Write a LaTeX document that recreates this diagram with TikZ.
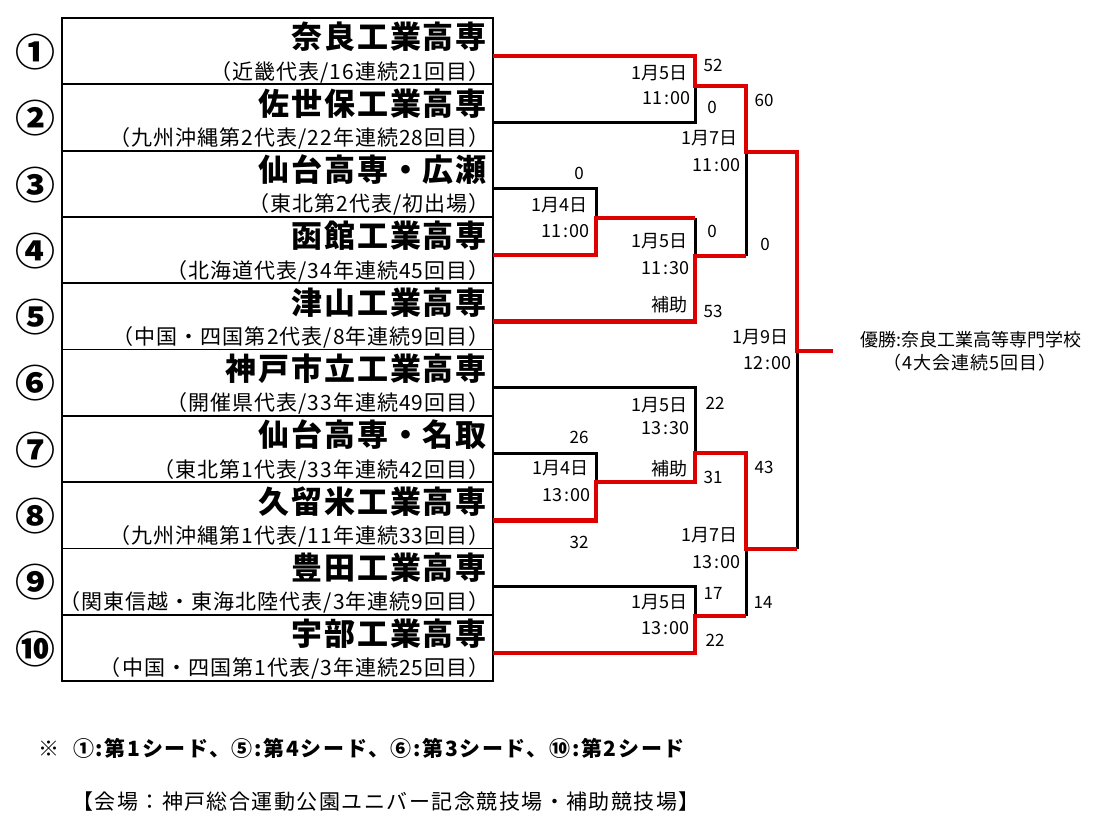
\documentclass[tikz,border=0pt]{standalone}
\usepackage{fontspec}
\setmainfont{Noto Sans CJK JP}
\newfontfamily\namefont{Noto Sans CJK JP}[LetterSpace=6]
\newfontfamily\subfont{Noto Sans CJK JP}[LetterSpace=5]
\newfontfamily\notefont{Noto Sans CJK JP}[LetterSpace=8]
\newfontfamily\placefont{Noto Sans CJK JP}[LetterSpace=7]
\definecolor{winred}{RGB}{220,0,0}
\newcommand\hm[2]{#1\kern1.5pt:\kern1.5pt#2}

\begin{document}
\begin{tikzpicture}[x=1pt,y=-1pt,
    row/.style={draw,line width=1.8pt,minimum width=431pt,minimum height=66.3pt,inner sep=0pt,outer sep=0pt},
    school/.style={anchor=east,inner sep=0pt,font={\namefont\bfseries\fontsize{31pt}{31pt}\selectfont}},
    detail/.style={anchor=east,inner sep=0pt,font={\subfont\fontsize{21pt}{21pt}\selectfont}},
    seed/.style={inner sep=0pt,xscale=1.05,font={\bfseries\fontsize{38pt}{38pt}\selectfont}},
    score/.style={inner sep=0pt,font={\fontsize{17pt}{17pt}\selectfont}},
    date/.style={anchor=east,inner sep=0pt,font={\fontsize{18pt}{18pt}\selectfont}},
    lose/.style={line width=3pt},
    win/.style={line width=4.5pt,winred},
    note/.style={anchor=west,inner sep=0pt}]
    \useasboundingbox (0,0) rectangle (1116,838);

    % Team rows
    \node[row] (r1) at (277.5,51.15) {};
    \node[row] (r2) at (277.5,117.45) {};
    \node[row] (r3) at (277.5,183.75) {};
    \node[row] (r4) at (277.5,250.05) {};
    \node[row] (r5) at (277.5,316.35) {};
    \node[row] (r6) at (277.5,382.65) {};
    \node[row] (r7) at (277.5,448.95) {};
    \node[row] (r8) at (277.5,515.25) {};
    \node[row] (r9) at (277.5,581.55) {};
    \node[row] (r10) at (277.5,647.85) {};

    % Seeds
    \node[seed] (c1) at (35,52) {①};
    \node[seed] (c2) at (35,118.3) {②};
    \node[seed] (c3) at (35,184.6) {③};
    \node[seed] (c4) at (35,250.9) {④};
    \node[seed] (c5) at (35,317.2) {⑤};
    \node[seed] (c6) at (35,383.5) {⑥};
    \node[seed] (c7) at (35,449.8) {⑦};
    \node[seed] (c8) at (35,516.1) {⑧};
    \node[seed] (c9) at (35,582.4) {⑨};
    \node[seed] (c10) at (35,648.7) {⑩};

    % Schools
    \node[school] (n1) at ([xshift=-6pt,yshift=14pt]r1.east) {奈良工業高専};
    \node[detail] (s1) at ([xshift=-3pt,yshift=-21pt]r1.east) {（近畿代表/16連続21回目）};
    \node[school] (n2) at ([xshift=-6pt,yshift=14pt]r2.east) {佐世保工業高専};
    \node[detail] (s2) at ([xshift=-3pt,yshift=-21pt]r2.east) {（九州沖縄第2代表/22年連続28回目）};
    \node[school] (n3) at ([xshift=-6pt,yshift=14pt]r3.east) {仙台高専・広瀬};
    \node[detail] (s3) at ([xshift=-3pt,yshift=-21pt]r3.east) {（東北第2代表/初出場）};
    \node[school] (n4) at ([xshift=-6pt,yshift=14pt]r4.east) {函館工業高専};
    \node[detail] (s4) at ([xshift=-3pt,yshift=-21pt]r4.east) {（北海道代表/34年連続45回目）};
    \node[school] (n5) at ([xshift=-6pt,yshift=14pt]r5.east) {津山工業高専};
    \node[detail] (s5) at ([xshift=-3pt,yshift=-21pt]r5.east) {（中国・四国第2代表/8年連続9回目）};
    \node[school] (n6) at ([xshift=-6pt,yshift=14pt]r6.east) {神戸市立工業高専};
    \node[detail] (s6) at ([xshift=-3pt,yshift=-21pt]r6.east) {（開催県代表/33年連続49回目）};
    \node[school] (n7) at ([xshift=-6pt,yshift=14pt]r7.east) {仙台高専・名取};
    \node[detail] (s7) at ([xshift=-3pt,yshift=-21pt]r7.east) {（東北第1代表/33年連続42回目）};
    \node[school] (n8) at ([xshift=-6pt,yshift=14pt]r8.east) {久留米工業高専};
    \node[detail] (s8) at ([xshift=-3pt,yshift=-21pt]r8.east) {（九州沖縄第1代表/11年連続33回目）};
    \node[school] (n9) at ([xshift=-6pt,yshift=14pt]r9.east) {豊田工業高専};
    \node[detail] (s9) at ([xshift=-3pt,yshift=-21pt]r9.east) {（関東信越・東海北陸代表/3年連続9回目）};
    \node[school] (n10) at ([xshift=-6pt,yshift=14pt]r10.east) {宇部工業高専};
    \node[detail] (s10) at ([xshift=-3pt,yshift=-21pt]r10.east) {（中国・四国第1代表/3年連続25回目）};

    % Bracket points
    \coordinate (t1) at ([yshift=-5pt]r1.east);
    \coordinate (t2) at ([yshift=-5pt]r2.east);
    \coordinate (t3) at ([yshift=-5pt]r3.east);
    \coordinate (t4) at ([yshift=-5pt]r4.east);
    \coordinate (t5) at ([yshift=-5pt]r5.east);
    \coordinate (t6) at ([yshift=-5pt]r6.east);
    \coordinate (t7) at ([yshift=-5pt]r7.east);
    \coordinate (t8) at ([yshift=-5pt]r8.east);
    \coordinate (t9) at ([yshift=-5pt]r9.east);
    \coordinate (t10) at ([yshift=-5pt]r10.east);
    \coordinate (a) at (695,86);
    \coordinate (b) at (596,218);
    \coordinate (c) at (695,256);
    \coordinate (d) at (746,152);
    \coordinate (e) at (596,482);
    \coordinate (f) at (695,453);
    \coordinate (g) at (695,616);
    \coordinate (h) at (746,549);
    \coordinate (fin) at (797,351);
    \coordinate (champ) at (833,351);

    % Losers
    \draw[lose] (t2) -| (a);
    \draw[lose] (t3) -| (b);
    \draw[lose] (b -| c) -- (c);
    \draw[lose] (c -| d) -- (d);
    \draw[lose] (t6) -| (f);
    \draw[lose] (t7) -| (e);
    \draw[lose] (t9) -| (g);
    \draw[lose] (g -| h) -- (h);
    \draw[lose] (h -| fin) -- (fin);
    % Winners
    \draw[win] (t1) -| (a) -| (d) -| (fin) -- (champ);
    \draw[win] (t4) -| (b) -- (b -| c);
    \draw[win] (t5) -| (c) -- (c -| d);
    \draw[win] (t8) -| (e) -| (f) -| (h) -- (h -| fin);
    \draw[win] (t10) -| (g) -- (g -| h);

    % Scores
    \node[score] (sa1) at (713,65) {52};
    \node[score] (sa2) at (712,107) {0};
    \node[score] (sb1) at (579,173) {0};
    \node[score] (sc1) at (712,231) {0};
    \node[score] (sc2) at (713,311) {53};
    \node[score] (sd1) at (764,100) {60};
    \node[score] (sd2) at (765,244) {0};
    \node[score] (se1) at (579,437) {26};
    \node[score] (se2) at (579,542) {32};
    \node[score] (sf1) at (715,403) {22};
    \node[score] (sf2) at (713,477) {31};
    \node[score] (sg1) at (713,593) {17};
    \node[score] (sg2) at (715,640) {22};
    \node[score] (sh1) at (764,467) {43};
    \node[score] (sh2) at (763,602) {14};

    % Dates
    \node[date] (da) at (688,73) {1月5日};
    \node[date] (ta) at (691,98) {\hm{11}{00}};
    \node[date] (db) at (588,205) {1月4日};
    \node[date] (tb) at (590,231) {\hm{11}{00}};
    \node[date] (dc) at (688,241) {1月5日};
    \node[date] (tc) at (690,268) {\hm{11}{30}};
    \node[date] (vc) at (688,305) {補助};
    \node[date] (dd) at (738,138) {1月7日};
    \node[date] (td) at (741,165) {\hm{11}{00}};
    \node[date] (de) at (589,468) {1月4日};
    \node[date] (te) at (591,495) {\hm{13}{00}};
    \node[date] (df) at (688,405) {1月5日};
    \node[date] (tf) at (690,428) {\hm{13}{30}};
    \node[date] (vf) at (688,469) {補助};
    \node[date] (dg) at (688,602) {1月5日};
    \node[date] (tg) at (690,628) {\hm{13}{00}};
    \node[date] (dh) at (738,535) {1月7日};
    \node[date] (th) at (741,562) {\hm{13}{00}};
    \node[date] (dfin) at (789,337) {1月9日};
    \node[date] (tfin) at (792,363) {\hm{12}{00}};

    % Champion
    \node[inner sep=0pt,font={\fontsize{18pt}{18pt}\selectfont}] (title) at (971,340) {優勝:奈良工業高等専門学校};
    \node[inner sep=0pt,font={\subfont\fontsize{18pt}{18pt}\selectfont}] (title2) at (970,363) {（4大会連続5回目）};

    % Notes
    \node[note,font={\notefont\bfseries\fontsize{21pt}{21pt}\selectfont}] (seeds) at (38,748) {※\hspace{14pt}①:第1シード、⑤:第4シード、⑥:第3シード、⑩:第2シード};
    \node[note,font={\placefont\fontsize{21pt}{21pt}\selectfont}] (venue) at (72,802) {【会場：神戸総合運動公園ユニバー記念競技場・補助競技場】};
\end{tikzpicture}
\end{document}
